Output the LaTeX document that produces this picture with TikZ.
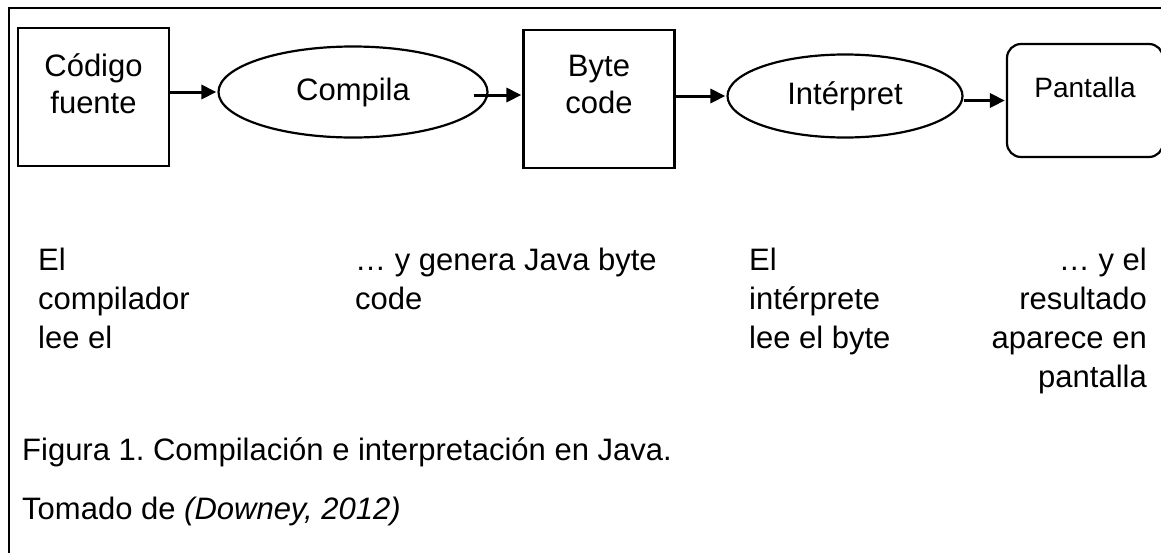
\documentclass[tikz,border=0pt]{standalone}
\usepackage{fontspec}
\setmainfont{Liberation Sans}
\usepackage{tikz}
\usetikzlibrary{shapes.geometric,arrows.meta}
\frenchspacing

\begin{document}
\begin{tikzpicture}[x=1pt,y=-1pt,
    font=\fontsize{31}{39}\selectfont,
    caja/.style={draw,line width=2.2pt,rectangle,minimum width=151pt,minimum height=138pt,align=center,inner sep=0pt},
    elipse/.style={draw,line width=2.2pt,ellipse,inner sep=0pt},
    flecha/.style={line width=3pt,-{Triangle[length=15pt,width=14pt]},shorten >=1pt},
    texto/.style={align=left,inner sep=0pt}]
    \useasboundingbox (0,0) rectangle (1161,552);
    % marco
    \draw[line width=2pt] (9,560) -- (9,8) -- (1170,8);
    % fila de arriba
    \node[caja,text depth=26pt,font=\fontsize{31}{37}\selectfont] (fuente) at (93.5,97) {Código\\fuente};
    \node[elipse,minimum width=269pt,minimum height=91pt] (compila) at (353,92) {Compila};
    \node[caja,text depth=30pt,font=\fontsize{31}{37}\selectfont] (byte) at (599,99) {Byte\\code};
    \node[elipse,minimum width=235pt,minimum height=83pt] (interp) at (845,96) {Intérpret};
    \node[draw,line width=2.2pt,rounded corners=14pt,minimum width=156pt,minimum height=113pt,
      inner sep=0pt,text depth=26pt,font=\fontsize{28}{34}\selectfont] (pantalla) at (1085,100.5) {Pantalla};
    \draw[flecha] (fuente.east |- compila.west) -- (compila.west);
    \draw[flecha] ([xshift=-15pt,yshift=-3pt]compila.east) -- ([yshift=4pt]byte.west);
    \draw[flecha] (byte.east |- interp.west) -- (interp.west);
    \draw[flecha] (pantalla.west -| interp.east) -- (pantalla.west);
    % textos de abajo
    \node[texto,anchor=north west] (lee) at (38,248) {El\\compilador\\lee el};
    \node[texto,anchor=north west] (genera) at (355,248) {… y genera Java byte\\code};
    \node[texto,anchor=north west] (interpreta) at (749,248) {El\\intérprete\\lee el byte};
    \node[texto,align=right,anchor=north east] (resultado) at (1147,248) {… y el\\resultado\\aparece en\\pantalla};
    \node[texto,anchor=base west] (figura) at (22,460) {Figura 1. Compilación e interpretación en Java.};
    \node[texto,anchor=base west] (tomado) at (22,519) {Tomado de \textit{(Downey, 2012)}};
\end{tikzpicture}
\end{document}
